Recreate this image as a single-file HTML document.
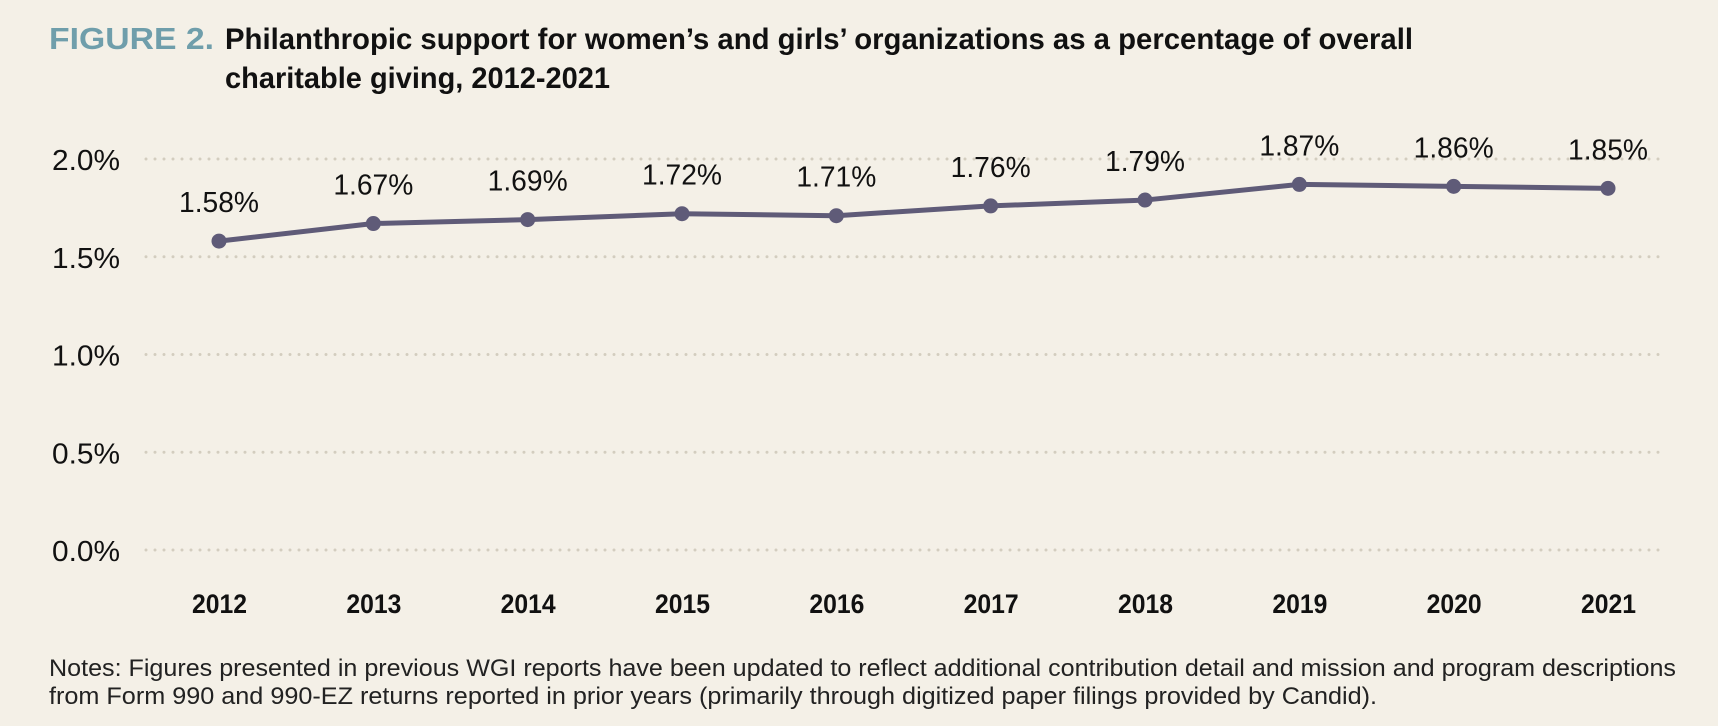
<!DOCTYPE html>
<html><head><meta charset="utf-8"><style>
html,body{margin:0;padding:0;background:#f4f0e7;}
svg{display:block;}
text{font-family:"Liberation Sans",sans-serif;}
</style></head><body>
<svg id="chart" width="1718" height="726" viewBox="0 0 1718 726" xmlns="http://www.w3.org/2000/svg">
<rect width="1718" height="726" fill="#f4f0e7"/>
<text x="49" y="49" font-size="31" font-weight="bold" fill="#6f9eab" textLength="165" lengthAdjust="spacingAndGlyphs">FIGURE 2.</text>
<text x="225" y="49" font-size="30" font-weight="bold" fill="#111" textLength="1188" lengthAdjust="spacingAndGlyphs">Philanthropic support for women’s and girls’ organizations as a percentage of overall</text>
<text x="225" y="88" font-size="30" font-weight="bold" fill="#111" textLength="385" lengthAdjust="spacingAndGlyphs">charitable giving, 2012-2021</text>
<g id="grid"></g><g id="yt"></g><g id="xt"></g><g id="series"></g>
<text x="49" y="676" font-size="24" fill="#222" textLength="1627" lengthAdjust="spacingAndGlyphs">Notes: Figures presented in previous WGI reports have been updated to reflect additional contribution detail and mission and program descriptions</text>
<text x="49" y="704" font-size="24" fill="#222" textLength="1328" lengthAdjust="spacingAndGlyphs">from Form 990 and 990-EZ returns reported in prior years (primarily through digitized paper filings provided by Candid).</text>
</svg>
<script>
const years = ["2012","2013","2014","2015","2016","2017","2018","2019","2020","2021"];
const values = [1.58,1.67,1.69,1.72,1.71,1.76,1.79,1.87,1.86,1.85];
const valueLabels = ["1.58%","1.67%","1.69%","1.72%","1.71%","1.76%","1.79%","1.87%","1.86%","1.85%"];
const yTicks = [0,0.5,1.0,1.5,2.0];
const yTickLabels = ["0.0%","0.5%","1.0%","1.5%","2.0%"];

const NS="http://www.w3.org/2000/svg";
const x0=219,x1=1608,yBase=550,yTop=159;
const xs=i=>x0+(x1-x0)*i/(years.length-1);
const ys=v=>yBase-(yBase-yTop)*v/2.0;
function mk(tag,attrs,parent){const e=document.createElementNS(NS,tag);for(const k in attrs)e.setAttribute(k,attrs[k]);parent.appendChild(e);return e;}
const grid=document.getElementById('grid'),yt=document.getElementById('yt'),xt=document.getElementById('xt'),ser=document.getElementById('series');
yTicks.forEach((t,i)=>{
  const l=mk('line',{x1:146,x2:1660,y1:ys(t),y2:ys(t),stroke:'#d3cdbf','stroke-width':3,'stroke-dasharray':'0 9','stroke-linecap':'round'},grid);
  
  
  const tx=mk('text',{x:52,y:ys(t)+11,'font-size':29,fill:'#111',textLength:68,lengthAdjust:'spacingAndGlyphs'},yt);
  tx.textContent=yTickLabels[i];
  
  
});
years.forEach((y,i)=>{
  const tx=mk('text',{x:xs(i)-27,y:613,'font-size':27,'font-weight':'bold',fill:'#111',textLength:55,lengthAdjust:'spacingAndGlyphs'},xt);
  tx.textContent=y;
  
  
});
const pl=mk('polyline',{points:values.map((v,i)=>xs(i)+','+ys(v)).join(' '),fill:'none',stroke:'#5f5b78','stroke-width':5,'stroke-linejoin':'round'},ser);


values.forEach((v,i)=>{
  const c=mk('circle',{cx:xs(i),cy:ys(v),r:7.5,fill:'#5f5b78'},ser);
  
  
  const tx=mk('text',{x:xs(i)-40,y:ys(v)-29,'font-size':29,fill:'#111',textLength:80,lengthAdjust:'spacingAndGlyphs'},ser);
  tx.textContent=valueLabels[i];
  
  
});
</script>
</body></html>
